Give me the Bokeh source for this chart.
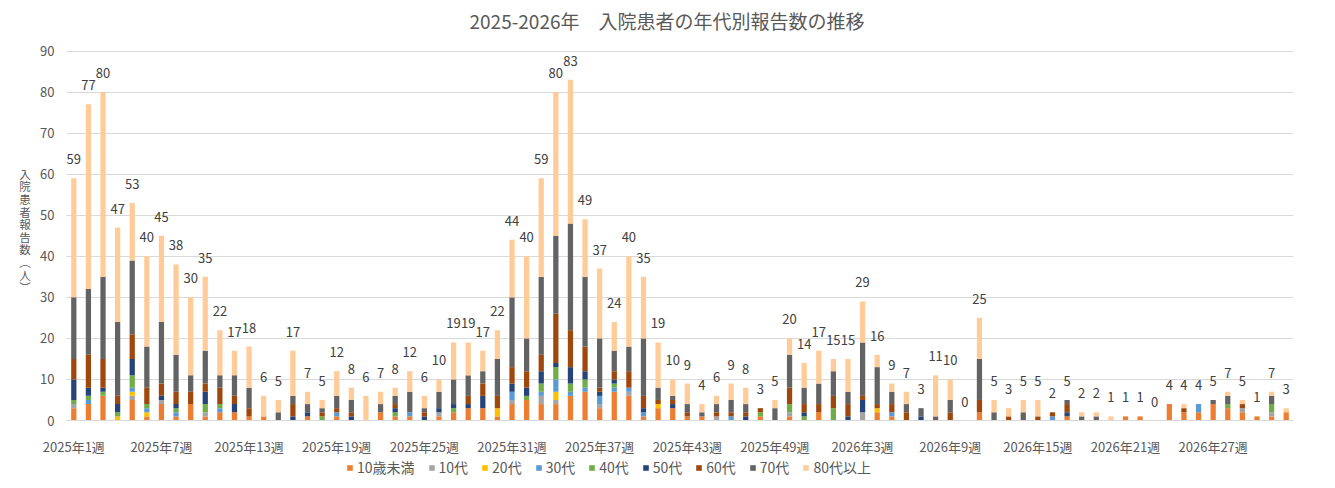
from bokeh.plotting import figure
from bokeh.models import ColumnDataSource, Legend, LegendItem, FixedTicker, Range1d, Label
from bokeh.core.properties import value
from bokeh.embed import file_html
from bokeh.resources import INLINE

# ---- data ----
weeks = [f"2025年{w}週" for w in range(1, 53)] + [f"2026年{w}週" for w in range(1, 33)]
tick_every = 6
y_ticks = list(range(0, 91, 10))

series_names = ["10歳未満", "10代", "20代", "30代", "40代", "50代", "60代", "70代", "80代以上"]
colors = ["#ED7D31", "#A5A5A5", "#FFC000", "#5B9BD5", "#70AD47", "#264478", "#9E480E", "#636363", "#FFCC99"]

u10 = [3,4,6,0,5,1,4,1,4,1,2,2,1,1,0,0,1,0,1,0,
       0,2,1,1,0,1,2,3,3,1,4,5,4,4,6,7,3,7,6,1,
       3,3,1,1,0,0,0,1,0,1,0,2,0,0,0,2,1,0,0,0,
       0,0,2,0,0,0,0,0,1,0,0,0,1,1,0,4,2,2,4,3,
       2,1,1,2]
s10 = [1,0,0,0,1,0,1,0,0,1,0,0,0,0,0,0,0,0,0,0,
       0,0,0,0,0,1,0,0,0,0,1,0,2,1,0,0,1,0,1,0,
       0,0,0,0,1,0,0,0,0,1,0,0,0,0,2,0,0,0,0,0,
       0,0,0,0,0,0,0,0,0,0,0,0,0,0,0,0,0,0,0,0,
       1,0,1,0]
s20 = [0,0,0,1,1,1,0,0,0,0,0,0,0,0,0,0,0,0,0,0,
       0,0,0,0,0,0,0,0,0,2,0,0,0,2,0,0,0,0,0,0,
       1,0,0,0,0,0,0,0,0,0,0,0,0,0,0,1,0,0,0,0,
       0,0,0,0,0,0,0,0,0,0,0,0,0,0,0,0,0,0,0,0,
       0,0,0,0]
s30 = [0,1,0,0,1,1,0,1,0,0,1,0,0,0,0,0,0,0,1,0,
       0,0,0,1,0,0,0,0,0,0,2,0,1,3,1,1,2,1,1,1,
       0,0,0,0,0,1,0,0,0,0,0,0,0,0,0,0,1,0,0,0,
       0,0,0,0,0,0,0,1,0,0,0,0,0,0,0,0,0,2,0,0,
       0,0,0,0]
s40 = [1,1,1,1,3,1,0,1,0,2,1,0,0,0,0,0,0,1,0,0,
       0,0,1,0,0,0,1,0,0,0,0,1,2,3,2,2,0,1,0,0,
       0,0,0,0,0,0,0,1,0,2,1,0,3,0,0,0,0,0,0,0,
       0,0,0,0,0,0,0,0,0,0,0,0,0,0,0,0,0,0,0,1,
       0,0,2,0]
s50 = [5,2,1,2,4,0,1,1,0,3,0,2,0,0,0,1,1,0,0,1,
       0,0,1,0,1,1,1,1,3,0,2,2,3,1,4,2,1,1,0,1,
       0,1,0,0,0,0,1,0,0,0,1,0,0,1,3,0,0,0,1,0,
       0,0,0,0,0,0,0,0,1,0,0,0,0,0,0,0,0,0,0,0,
       0,0,0,0]
s60 = [5,8,7,2,6,4,3,3,3,2,4,2,2,0,0,3,0,1,1,1,
       0,0,1,0,1,0,0,2,3,3,4,4,4,12,9,6,1,2,4,3,
       1,1,1,0,1,1,1,1,0,4,2,2,3,3,1,1,2,2,0,0,
       2,0,3,0,1,0,1,1,2,0,0,0,0,0,0,0,1,0,0,0,
       1,0,0,0]
s70 = [15,16,20,18,18,10,15,9,4,8,3,5,5,0,2,2,2,1,3,3,
       0,2,2,5,1,4,6,5,3,9,17,8,19,19,26,17,12,5,6,14,
       3,1,2,1,2,3,2,0,3,8,4,5,6,3,13,9,3,2,2,1,
       3,0,10,2,0,2,0,0,1,1,1,0,0,0,0,0,0,0,1,2,
       0,0,2,0]
s80 = [29,45,45,23,14,22,21,22,19,18,11,6,10,5,3,11,3,2,6,3,
       6,3,2,5,3,3,9,8,5,7,14,20,24,35,35,14,17,7,22,15,
       11,4,5,2,2,4,4,0,2,4,6,8,3,8,10,3,2,3,0,10,
       5,0,10,3,2,3,4,0,0,1,1,1,0,0,0,0,1,0,0,1,
       1,0,1,1]

series = [u10, s10, s20, s30, s40, s50, s60, s70, s80]

title_text = "2025-2026年　入院患者の年代別報告数の推移"
y_title = "入院患者報告数（人）"

# ---- build ----
FONT = "Noto Sans CJK JP"
n = len(weeks)
xs = list(range(n))
data = {"x": xs}
for name, vals in zip(series_names, series):
    data[name] = vals
totals = [sum(v[i] for v in series) for i in range(n)]
data["total"] = totals
data["label"] = [str(t) for t in totals]
src = ColumnDataSource(data)

# The frame covers the whole canvas; the value area is 66..1293 x 50.5..420 px.
W, H = 1335, 488
left_px, right_px = 66.0, 1293.0
top_px, zero_px = 50.5, 420.0
step = (right_px - left_px) / n
ppu = (zero_px - top_px) / 90.0
x_start = -0.5 - left_px / step
y_end = 90 + top_px / ppu
y_start = -(H - zero_px) / ppu

def sx(px):  # pixel column -> data x
    return -0.5 + (px - left_px) / step

def sy(py):  # pixel row -> data y
    return (zero_px - py) / ppu

p = figure(width=W, height=H, output_backend="svg", toolbar_location=None,
           x_range=Range1d(x_start, n - 0.5), y_range=Range1d(y_start, y_end),
           min_border_left=0, min_border_right=int(W - right_px), min_border_top=0, min_border_bottom=0)
p.outline_line_color = None
p.background_fill_color = "white"
p.border_fill_color = "white"

# grid lines limited to the value area
p.xgrid.grid_line_color = None
grid_ok = False
try:
    p.ygrid.cross_bounds = (-0.5, n - 0.5)
    grid_ok = True
except Exception:
    grid_ok = False
if grid_ok:
    p.ygrid.grid_line_color = "#D9D9D9"
    p.ygrid.grid_line_width = 1
else:
    p.ygrid.grid_line_color = None
    p.segment(x0=[-0.5] * len(y_ticks), x1=[n - 0.5] * len(y_ticks), y0=y_ticks, y1=y_ticks,
              line_color="#D9D9D9", line_width=1)

rs = p.vbar_stack(series_names, x="x", width=0.36, color=colors, line_color=None, source=src)

p.text(x="x", y="total", text="label", source=src, y_offset=-19,
       text_align="center", text_baseline="middle", text_font=value(FONT),
       text_font_size="13px", text_color="#404040")

# y axis (value axis) drawn at the left edge of the value area
p.yaxis.fixed_location = -0.5
p.yaxis.ticker = FixedTicker(ticks=y_ticks)
p.yaxis.bounds = (0, 90)
p.yaxis.axis_line_color = None
p.yaxis.major_tick_line_color = None
p.yaxis.minor_tick_line_color = None
p.yaxis.major_label_text_font = FONT
p.yaxis.major_label_text_font_size = "13px"
p.yaxis.major_label_text_color = "#595959"
p.yaxis.major_label_standoff = 6

# x axis at y = 0
ticks = list(range(0, n, tick_every))
p.xaxis.fixed_location = 0
p.xaxis.bounds = (-0.5, n - 0.5)
p.xaxis.ticker = FixedTicker(ticks=ticks)
p.xaxis.major_label_overrides = {t: weeks[t] for t in ticks}
p.xaxis.axis_line_color = "#D9D9D9"
p.xaxis.major_tick_line_color = None
p.xaxis.minor_tick_line_color = None
p.xaxis.major_label_text_font = FONT
p.xaxis.major_label_text_font_size = "13px"
p.xaxis.major_label_text_color = "#595959"
p.xaxis.major_label_standoff = 10

# title
p.add_layout(Label(x=sx(666.5), y=sy(20), text=title_text,
                   text_align="center", text_baseline="middle", text_font=FONT,
                   text_font_size="19px", text_color="#595959"))

# vertical (upright, stacked) y-axis title
chars = [ch.replace("（", "︵").replace("）", "︶") for ch in y_title]
line_px = 12.6
center_py = 230.0
for i, ch in enumerate(chars):
    py = center_py + (i - (len(chars) - 1) / 2) * line_px
    p.add_layout(Label(x=sx(24.5), y=sy(py), text=ch,
                       text_align="center", text_baseline="middle", text_font=FONT,
                       text_font_size="11.5px", text_color="#595959"))

legend = Legend(items=[LegendItem(label=nm, renderers=[r]) for nm, r in zip(series_names, rs)],
                orientation="horizontal", location=(280 + left_px, 11),
                glyph_width=7, glyph_height=7, label_standoff=4, spacing=13,
                padding=0, margin=0, border_line_color=None, background_fill_alpha=0,
                label_text_font=FONT, label_text_font_size="14px", label_text_color="#595959")
p.add_layout(legend, "center")

open("out.html", "w").write(file_html(p, INLINE))
